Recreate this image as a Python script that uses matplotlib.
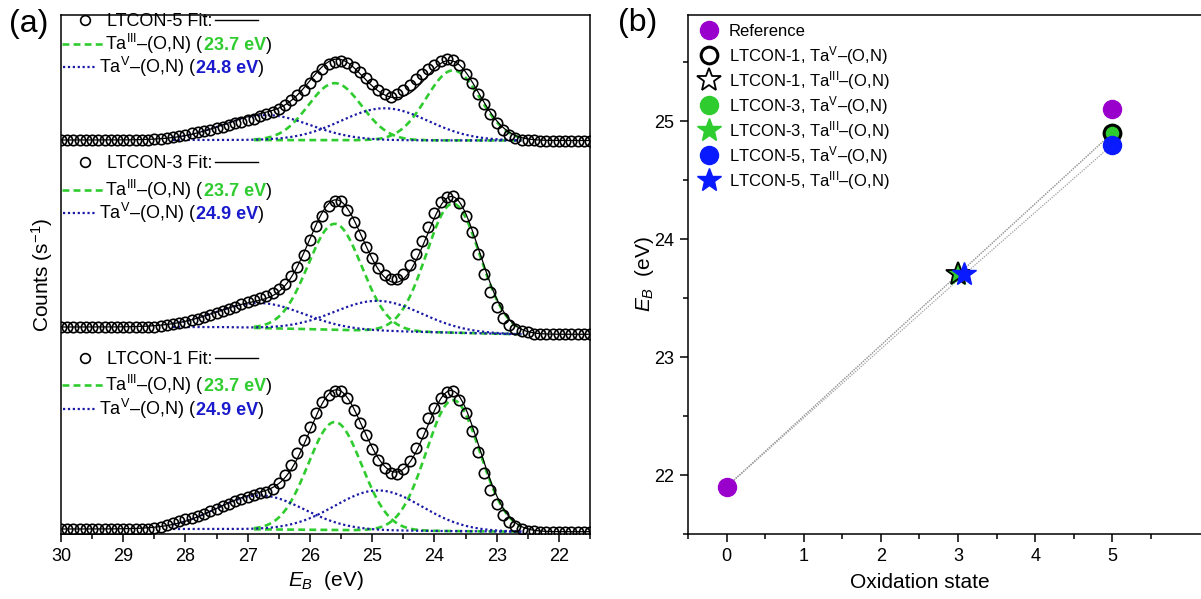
import numpy as np
import matplotlib
matplotlib.use('Agg')
import matplotlib.pyplot as plt
from matplotlib.lines import Line2D
from matplotlib.ticker import FixedLocator

plt.rcParams['font.family'] = ['Liberation Sans', 'DejaVu Sans']
plt.rcParams['mathtext.fontset'] = 'custom'
plt.rcParams['mathtext.rm'] = 'Liberation Sans'
plt.rcParams['mathtext.it'] = 'Liberation Sans:italic'
plt.rcParams['mathtext.bf'] = 'Liberation Sans:bold'

# ---------------- data ----------------
samples = ['LTCON-1', 'LTCON-3', 'LTCON-5']

# binding energy grid of the measured points, 30.0 -> 21.5 eV, step 0.1
energy = np.round(np.linspace(30.0, 21.5, 86), 1)

# counts above each spectrum's baseline (arb. units)
counts_ltcon1 = [0.0] * 15 + [
    1.2, 2.3, 4.0, 6.0, 8.0, 9.8, 11.3, 13.5, 15.5, 17.8, 20.3, 23.0, 25.5, 28.0,
    30.5, 32.5, 34.3, 35.8, 37.5, 40.5, 46.0, 54.0, 64.5, 76.5, 89.5, 102.5, 116.0,
    127.0, 134.5, 138.5, 138.0, 131.0, 119.5, 106.5, 94.0, 80.5, 69.0, 61.0, 56.0,
    55.5, 60.0, 68.5, 81.0, 96.5, 111.0, 121.5, 131.5, 137.5, 138.5, 129.5, 116.0,
    98.0, 77.0, 56.0, 39.0, 25.0, 14.5, 7.5, 3.0, 0.3, -1.5, -2.3] + [-2.7] * 9
counts_ltcon3 = [0.0] * 16 + [
    1.0, 1.8, 2.7, 4.0, 5.2, 6.7, 8.3, 10.0, 12.0, 14.0, 16.0, 18.0, 20.5, 23.0,
    25.0, 27.0, 29.0, 31.0, 34.0, 38.0, 43.3, 51.0, 60.5, 72.0, 87.0, 101.0, 111.5,
    121.0, 126.0, 126.0, 117.0, 105.0, 92.0, 80.0, 69.0, 59.0, 52.0, 48.0, 48.0,
    53.0, 62.0, 73.0, 86.0, 100.0, 114.0, 125.0, 130.5, 131.0, 124.0, 111.0, 95.0,
    73.0, 53.0, 35.0, 20.0, 9.0, 2.0, -1.5, -3.5, -5.0, -6.5, -7.0] + [-7.3] * 8
counts_ltcon5 = [0.0] * 14 + [
    0.3, 0.8, 1.5, 2.5, 3.5, 4.5, 5.5, 6.7, 7.8, 9.0, 10.5, 12.0, 13.4, 15.0, 16.8,
    18.3, 19.8, 21.5, 23.8, 26.0, 28.5, 31.5, 35.0, 40.0, 45.0, 50.5, 57.0, 64.0,
    71.0, 76.0, 78.5, 79.0, 77.0, 73.0, 68.0, 62.0, 56.0, 50.5, 46.5, 43.5, 46.0,
    50.0, 55.0, 61.0, 66.5, 71.0, 75.5, 79.0, 81.0, 80.0, 75.0, 66.0, 57.5, 46.0,
    36.0, 26.0, 16.7, 10.0, 5.0, 2.0, 0.5, 0.0, -0.3] + [-0.5] * 9
counts = [counts_ltcon1, counts_ltcon3, counts_ltcon5]
offsets = [5, 207, 394]

# fitted peak positions (eV) of the 4f7/2 lines, also used in panel (b)
be_taiii = [23.7, 23.7, 23.7]
be_tav = [24.9, 24.9, 24.8]
so_split = 1.9                      # 4f7/2 - 4f5/2 spin-orbit splitting
taiii_h72 = [131, 129, 70]          # peak heights of the fit components
taiii_h52 = [108, 106, 57]
tav_h72 = [40, 30, 32]
tav_h52 = [34, 25, 25]
taiii_sigma = 0.43
tav_sigma = 0.7
bg_low_be = [-2.7, -7.3, -0.5]      # background level on the low-BE side

# panel (b)
ref_state = [0, 5]
ref_be = [21.9, 25.1]
state_taiii = [3.0, 3.0, 3.08]
state_tav = [5, 5, 5]

# ---------------- styles ----------------
green = '#2fcc2f'
navy = '#1a1aa6'
blue = '#0a1aff'
purple = '#9a00cc'

W, H = 1201, 599
fig = plt.figure(figsize=(W / 100, H / 100), dpi=100)


def px_box(left, top, right, bottom):
    return [left / W, 1 - bottom / H, (right - left) / W, (bottom - top) / H]


def fx(px):
    return px / W


def fy(py):
    return 1 - py / H


def rich_text(x, y, parts, size):
    # draw several text pieces one after the other on the same baseline
    renderer = fig.canvas.get_renderer()
    for s, kw in parts:
        t = fig.text(fx(x), fy(y), s, va='baseline', ha='left', size=size, **kw)
        x += t.get_window_extent(renderer).width


def gauss(e, c, h, s):
    return h * np.exp(-(e - c) ** 2 / (2 * s ** 2))


def background(e, low):
    return low * np.clip((27.5 - e) / (27.5 - 22.6), 0, 1)


# ---------------- panel (a) ----------------
ax = fig.add_axes(px_box(61, 15, 590, 534))
e_green = np.arange(26.9, 22.59, -0.02)
e_blue = np.arange(28.2, 22.59, -0.02)
e_fit = np.arange(30.0, 21.49, -0.02)

for i in range(3):
    off = offsets[i]
    g7, g5 = be_taiii[i], be_taiii[i] + so_split
    b7, b5 = be_tav[i], be_tav[i] + so_split
    for c, h in [(g7, taiii_h72[i]), (g5, taiii_h52[i])]:
        ax.plot(e_green, off + background(e_green, bg_low_be[i]) + gauss(e_green, c, h, taiii_sigma),
                color=green, lw=1.9, ls=(0, (2.6, 1.6)), zorder=2)
    for c, h in [(b7, tav_h72[i]), (b5, tav_h52[i])]:
        ax.plot(e_blue, off + background(e_blue, bg_low_be[i]) + gauss(e_blue, c, h, tav_sigma),
                color=navy, lw=1.6, ls=(0, (1, 1.2)), zorder=2)
    fit = (background(e_fit, bg_low_be[i]) + gauss(e_fit, g7, taiii_h72[i], taiii_sigma)
           + gauss(e_fit, g5, taiii_h52[i], taiii_sigma) + gauss(e_fit, b7, tav_h72[i], tav_sigma)
           + gauss(e_fit, b5, tav_h52[i], tav_sigma))
    ax.plot(e_fit, off + fit, color='k', lw=0.9, zorder=3)
    ax.plot(energy, off + np.array(counts[i]), 'o', mfc='none', mec='k', ms=7.5, mew=1.2, zorder=4)

ax.set_xlim(30, 21.5)
ax.set_ylim(0, 519)
ax.set_xticks(range(22, 31))
ax.xaxis.set_minor_locator(FixedLocator(np.arange(21.5, 30.0, 1.0)))
ax.tick_params(axis='x', which='major', direction='out', length=6, width=1.1, labelsize=13, pad=4)
ax.tick_params(axis='x', which='minor', direction='out', length=3.5, width=1.1)
ax.tick_params(axis='y', left=False, labelleft=False)
for sp in ax.spines.values():
    sp.set_linewidth(1.1)
ax.set_xlabel('$E_B$  (eV)', size=15, labelpad=3)
ax.set_ylabel('Counts (s$^{-1}$)', size=15, labelpad=4)

# legend blocks of panel (a): baselines of the three rows
legend_rows = [(364, 391, 415), (168, 196, 219), (26, 50, 73)]
for i in range(3):
    r1, r2, r3 = legend_rows[i]
    fig.add_artist(Line2D([fx(85)], [fy(r1 - 6)], marker='o', mfc='none', mec='k', ms=7, mew=1.2))
    fig.text(fx(107), fy(r1), samples[i] + ' Fit:', va='baseline', size=13)
    fig.add_artist(Line2D([fx(215), fx(258)], [fy(r1 - 6)] * 2, color='k', lw=1))
    fig.add_artist(Line2D([fx(62), fx(105)], [fy(r2 - 6)] * 2, color=green, lw=1.9, ls=(0, (2.6, 1.6))))
    rich_text(105, r2, [('Ta$^{\\rm III}$\u2013(O,N) (', {}),
                        (f'{be_taiii[i]:.1f} eV', {'color': green, 'weight': 'bold'}),
                        (')', {})], 13)
    fig.add_artist(Line2D([fx(63), fx(97)], [fy(r3 - 6)] * 2, color=navy, lw=1.6, ls=(0, (1, 1.2))))
    rich_text(99, r3, [('Ta$^{\\rm V}$\u2013(O,N) (', {}),
                       (f'{be_tav[i]:.1f} eV', {'color': '#1a1acc', 'weight': 'bold'}),
                       (')', {})], 13)

fig.text(fx(9), fy(32), '(a)', size=23, va='baseline')

# ---------------- panel (b) ----------------
bx = fig.add_axes(px_box(688, 15, 1228, 534))
for i in range(3):
    bx.plot([ref_state[0], state_taiii[i], state_tav[i]], [ref_be[0], be_taiii[i], be_tav[i]],
            ls=(0, (1, 1)), color='#a0a0a0', lw=0.9, zorder=1)

ref_style = dict(marker='o', ms=13, color=purple, mec=purple, ls='none')
tav_styles = [dict(marker='o', ms=12, mfc='none', mec='k', mew=2.2, ls='none'),
              dict(marker='o', ms=13, color=green, mec=green, ls='none'),
              dict(marker='o', ms=13, color=blue, mec=blue, ls='none')]
taiii_styles = [dict(marker='*', ms=18, mfc='none', mec='k', mew=1.3, ls='none'),
                dict(marker='*', ms=18, color=green, mec=green, ls='none'),
                dict(marker='*', ms=18, color=blue, mec=blue, ls='none')]

bx.plot(ref_state, ref_be, zorder=3, **ref_style)
draw_order = [1, 0, 2]   # green under the open black marker, blue on top
for z, i in enumerate(draw_order):
    bx.plot([state_tav[i]], [be_tav[i]], zorder=4 + z, **tav_styles[i])
    bx.plot([state_taiii[i]], [be_taiii[i]], zorder=4 + z, **taiii_styles[i])

bx.set_xlim(-0.5, 6.5)
bx.set_ylim(21.5, 25.9)
bx.set_xticks(range(0, 6))
bx.xaxis.set_minor_locator(FixedLocator(np.arange(-0.5, 6.0, 1.0)))
bx.set_yticks([22, 23, 24, 25])
bx.yaxis.set_minor_locator(FixedLocator([21.5, 22.5, 23.5, 24.5, 25.5]))
bx.tick_params(which='major', direction='out', length=6, width=1.1, labelsize=13, pad=4)
bx.tick_params(which='minor', direction='out', length=3.5, width=1.1)
for sp in bx.spines.values():
    sp.set_linewidth(1.1)
bx.set_xlabel('Oxidation state', size=15, labelpad=3)
bx.xaxis.set_label_coords(3.0 / 7.0, -0.075)
bx.set_ylabel('$E_B$  (eV)', size=15, labelpad=-1)

# legend of panel (b)
leg_labels = ['Reference']
leg_styles = [ref_style]
for i in range(3):
    leg_labels += [samples[i] + ', Ta$^{\\rm V}$\u2013(O,N)', samples[i] + ', Ta$^{\\rm III}$\u2013(O,N)']
    leg_styles += [tav_styles[i], taiii_styles[i]]
for k, (lab, st) in enumerate(zip(leg_labels, leg_styles)):
    yb = 36 + 25 * k
    fig.add_artist(Line2D([fx(709)], [fy(yb - 6)], **st))
    fig.text(fx(729), fy(yb), lab, va='baseline', size=12)

fig.text(fx(618), fy(31), '(b)', size=23, va='baseline')

fig.savefig('out.png', dpi=100)
